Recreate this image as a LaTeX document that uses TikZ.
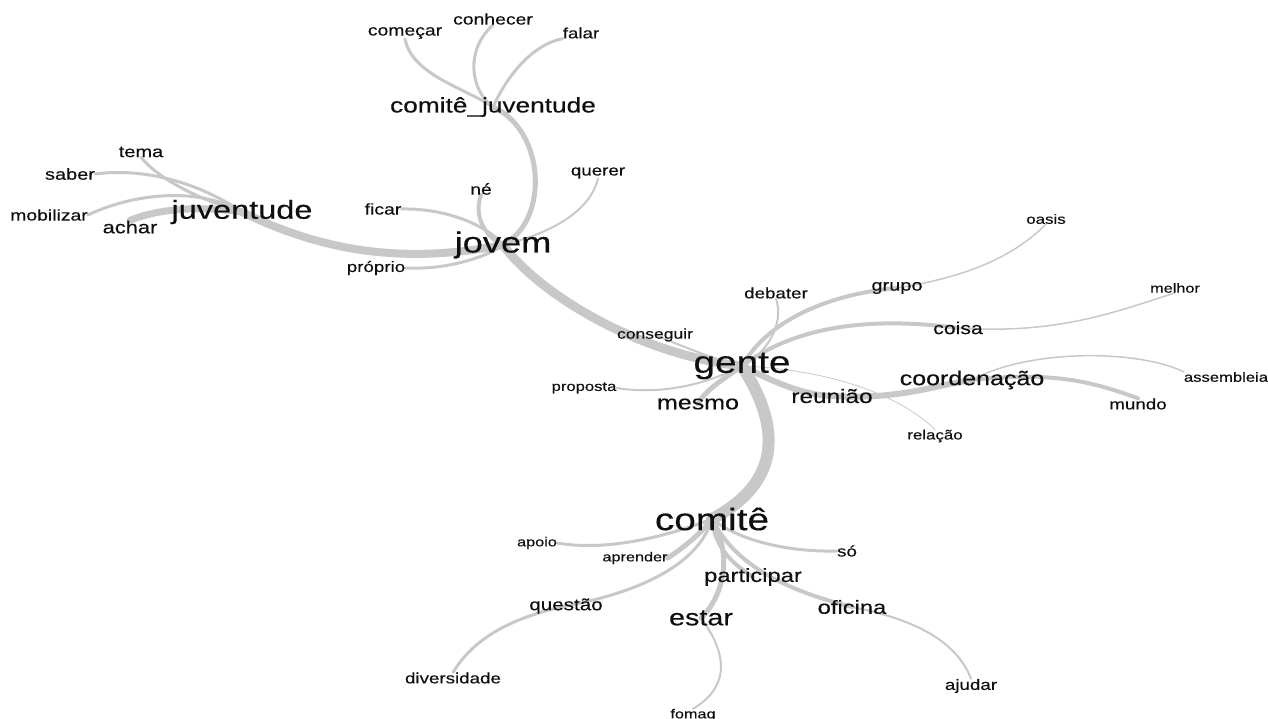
\documentclass[tikz,border=0pt]{standalone}
\usepackage{fontspec}
\setmainfont{Liberation Sans}[FakeStretch=1.25, FakeBold=0.35]
\usetikzlibrary{backgrounds}
\definecolor{cinza}{RGB}{200,200,200}
\definecolor{tinta}{RGB}{15,15,15}
\tikzset{
	palavra/.style={font=\fontsize{#1}{#1}\selectfont, text=tinta, inner sep=0pt},
	ramo/.style={draw=cinza, line width=#1, line cap=round},
}

\begin{document}
\begin{tikzpicture}[x=1pt, y=-1pt]
	\useasboundingbox (0,0) rectangle (1268,719);

	% gente
	\node[palavra=31] (gente) at (742,366) {gente};
	\node[palavra=15] (debater) at (776,293) {debater};
	\node[palavra=14] (conseguir) at (655,335) {conseguir};
	\node[palavra=13.3] (proposta) at (584,388) {proposta};
	\node[palavra=20] (mesmo) at (698,404) {mesmo};
	\node[palavra=16] (grupo) at (897,288) {grupo};
	\node[palavra=13.5] (oasis) at (1046,219) {oasis};
	\node[palavra=17] (coisa) at (958,328) {coisa};
	\node[palavra=13] (melhor) at (1175,288) {melhor};
	\node[palavra=19.5] (reuniao) at (832,396) {reunião};
	\node[palavra=20] (coordenacao) at (972,380) {coordenação};
	\node[palavra=15] (mundo) at (1138,404) {mundo};
	\node[palavra=13.3] (assembleia) at (1226,377) {assembleia};
	\node[palavra=13.5] (relacao) at (935,436) {relação};

	% jovem
	\node[palavra=29] (jovem) at (503,245) {jovem};
	\node[palavra=15.5] (ficar) at (383,209) {ficar};
	\node[palavra=15.5] (ne) at (481,189) {né};
	\node[palavra=15] (querer) at (598,173) {querer};
	\node[palavra=15] (proprio) at (376,268) {próprio};
	\node[palavra=21] (cjuv) at (493,107) {comitê\_juventude};
	\node[palavra=15.5] (comecar) at (405,33) {começar};
	\node[palavra=15.5] (conhecer) at (493,19) {conhecer};
	\node[palavra=15] (falar) at (581,33) {falar};
	\node[palavra=26] (juventude) at (242,212) {juventude};
	\node[palavra=16] (tema) at (141,152) {tema};
	\node[palavra=16] (saber) at (70,174) {saber};
	\node[palavra=15.5] (mobilizar) at (49,215) {mobilizar};
	\node[palavra=17.5] (achar) at (130,227) {achar};

	% comite
	\node[palavra=31] (comite) at (712,519) {comitê};
	\node[palavra=13] (apoio) at (537,543) {apoio};
	\node[palavra=13] (aprender) at (635,558) {aprender};
	\node[palavra=15] (so) at (847,551) {só};
	\node[palavra=19] (participar) at (753,577) {participar};
	\node[palavra=16.5] (questao) at (566,606) {questão};
	\node[palavra=23] (estar) at (701,618) {estar};
	\node[palavra=19] (oficina) at (852,607) {oficina};
	\node[palavra=15] (diversidade) at (453,678) {diversidade};
	\node[palavra=15] (ajudar) at (971,686) {ajudar};
	\node[palavra=13] (fomag) at (693,715) {fomag};

	\begin{pgfonlayer}{background}
	% tronco
	\draw[ramo=9] (jovem.center) .. controls (540,295) and (640,355) .. (gente.center);
	\draw[ramo=12] (gente.center) .. controls (770,410) and (795,475) .. (comite.center);
	\draw[ramo=5] (cjuv.center) .. controls (545,130) and (550,220) .. (jovem.center);
	\draw[ramo=8] (juventude.center) .. controls (320,250) and (400,265) .. (jovem.center);

	% ramos de gente
	\draw[ramo=4] (gente.center) .. controls (765,325) and (820,295) .. (grupo.center);
	\draw[ramo=1.5] (grupo.center) .. controls (980,275) and (1020,250) .. (oasis.south);
	\draw[ramo=4] (gente.center) .. controls (790,330) and (860,315) .. (coisa.center);
	\draw[ramo=1.5] (coisa.center) .. controls (1060,335) and (1120,310) .. (melhor.south);
	\draw[ramo=2] (debater.south) .. controls (785,325) and (765,355) .. (gente.center);
	\draw[ramo=2] (conseguir.center) .. controls (680,345) and (715,360) .. (gente.center);
	\draw[ramo=2] (proposta.east) .. controls (660,395) and (705,385) .. (gente.center);
	\draw[ramo=5] (mesmo.center) .. controls (705,390) and (725,378) .. (gente.center);
	\draw[ramo=6] (gente.center) .. controls (780,385) and (805,395) .. (reuniao.center);
	\draw[ramo=0.8] (gente.center) .. controls (840,370) and (905,400) .. (relacao.north);
	\draw[ramo=6] (reuniao.center) .. controls (900,400) and (935,385) .. (coordenacao.center);
	\draw[ramo=4] (coordenacao.center) .. controls (1060,370) and (1100,385) .. (mundo.north);
	\draw[ramo=1.5] (coordenacao.center) .. controls (1030,348) and (1140,350) .. (assembleia.north west);

	% ramos de jovem
	\draw[ramo=4] (ne.south) .. controls (472,220) and (490,240) .. (jovem.center);
	\draw[ramo=3] (ficar.east) .. controls (450,208) and (490,228) .. (jovem.center);
	\draw[ramo=2] (querer.south) .. controls (590,210) and (555,232) .. (jovem.center);
	\draw[ramo=3] (proprio.east) .. controls (445,270) and (485,258) .. (jovem.center);
	\draw[ramo=3] (comecar.south) .. controls (412,75) and (465,88) .. (cjuv.center);
	\draw[ramo=3] (conhecer.south) .. controls (465,50) and (470,90) .. (cjuv.center);
	\draw[ramo=3] (falar.south west) .. controls (530,45) and (505,80) .. (cjuv.center);
	\draw[ramo=3] (tema.south) .. controls (160,180) and (200,200) .. (juventude.center);
	\draw[ramo=3] (saber.east) .. controls (140,168) and (195,180) .. (juventude.center);
	\draw[ramo=3] (mobilizar.east) .. controls (130,195) and (195,185) .. (juventude.center);
	\draw[ramo=7] (achar.north) .. controls (155,210) and (195,205) .. (juventude.center);

	% ramos de comite
	\draw[ramo=3] (apoio.east) .. controls (610,552) and (670,535) .. (comite.center);
	\draw[ramo=5] (aprender.east) .. controls (680,550) and (700,535) .. (comite.center);
	\draw[ramo=3] (questao.center) .. controls (650,590) and (700,560) .. (comite.center);
	\draw[ramo=3] (questao.center) .. controls (500,620) and (470,645) .. (diversidade.north);
	\draw[ramo=4] (comite.center) .. controls (715,550) and (735,565) .. (participar.center);
	\draw[ramo=5] (comite.center) .. controls (735,560) and (720,600) .. (estar.center);
	\draw[ramo=2] (estar.center) .. controls (732,660) and (725,690) .. (fomag.north);
	\draw[ramo=4] (comite.center) .. controls (735,565) and (785,590) .. (oficina.center);
	\draw[ramo=2] (oficina.center) .. controls (930,622) and (960,650) .. (ajudar.north);
	\draw[ramo=3] (comite.center) .. controls (745,545) and (800,552) .. (so.west);
	\end{pgfonlayer}

\end{tikzpicture}
\end{document}
